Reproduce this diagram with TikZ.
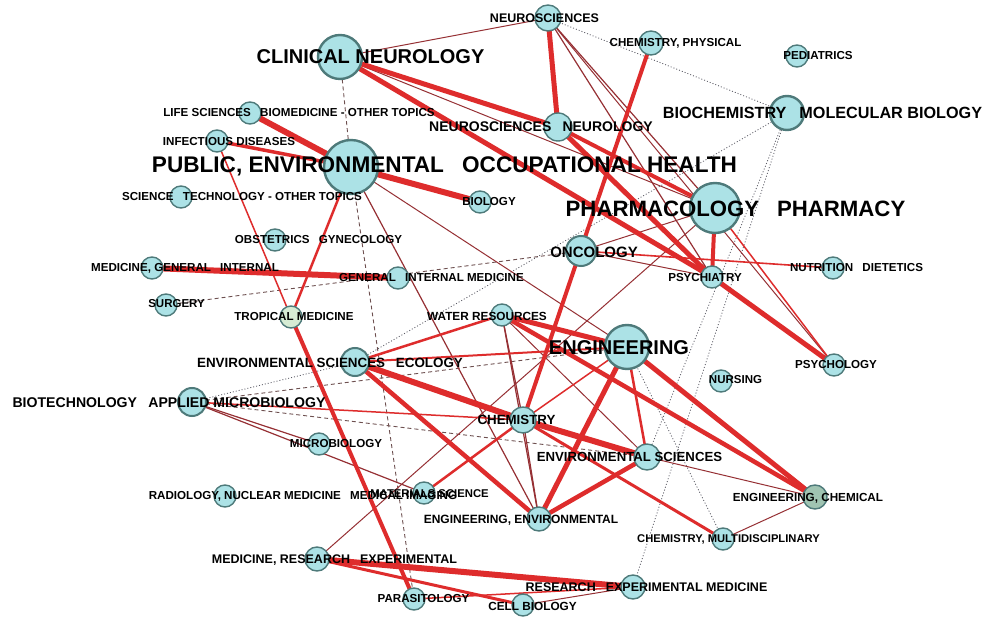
\documentclass[tikz,border=0pt]{standalone}
\usepackage{fontspec}
\setmainfont{Liberation Sans}
\definecolor{ndfill}{RGB}{172,226,230}
\definecolor{ndborder}{RGB}{78,122,122}
\definecolor{tropfill}{RGB}{214,236,212}
\definecolor{echfill}{RGB}{160,196,178}
\definecolor{edgered}{RGB}{222,44,44}
\definecolor{edgedark}{RGB}{150,48,52}
\definecolor{edgegray}{RGB}{110,80,80}
\definecolor{dotgray}{RGB}{90,90,100}
\newcommand{\gp}{\hspace{0.8em}}
\pgfdeclarelayer{bgfill}
\pgfdeclarelayer{edges}
\pgfsetlayers{bgfill,edges,main}
\tikzset{
  nd/.style={circle, draw=ndborder, fill=ndfill, line width=1.4pt, inner sep=0pt},
  bignd/.style={nd, line width=2.4pt},
  lab/.style={inner sep=0pt, text=black, font=\fontsize{#1}{#1}\selectfont\bfseries},
  ered/.style={draw=edgered, line width=#1},
  edark/.style={draw=edgedark, line width=#1},
  edash/.style={draw=edgegray, line width=0.9pt, dash pattern=on 4pt off 3pt},
  edot/.style={draw=dotgray, line width=0.8pt, dash pattern=on 1pt off 2pt}
}
\begin{document}
\begin{tikzpicture}[x=1pt,y=-1pt]
\useasboundingbox (0,0) rectangle (989,617);
\begin{pgfonlayer}{bgfill}
\fill[white] (0,0) rectangle (989,617);
\end{pgfonlayer}

% nodes (circles)
\node[nd, minimum size=26pt] (NEURO) at (548,18) {};
\node[bignd, minimum size=44pt] (CLINNEU) at (340,57) {};
\node[nd, minimum size=24pt] (CHEMPHYS) at (651,43) {};
\node[nd, minimum size=22pt] (PEDI) at (797,56) {};
\node[bignd, minimum size=34pt] (BIOCHEM) at (787,113) {};
\node[nd, minimum size=22pt] (LIFESCI) at (250,113) {};
\node[nd, minimum size=22pt] (INFECT) at (217,141) {};
\node[nd, minimum size=28pt] (NEURONEU) at (558,127) {};
\node[bignd, minimum size=54pt] (PH) at (351,167) {};
\node[nd, minimum size=22pt] (BIOL) at (480,202) {};
\node[nd, minimum size=22pt] (SCITECH) at (181,197) {};
\node[bignd, minimum size=50pt] (PHARM) at (715,208) {};
\node[nd, minimum size=22pt] (OBST) at (275,240) {};
\node[nd, line width=2pt, minimum size=30pt] (ONCO) at (581,251) {};
\node[nd, minimum size=22pt] (MEDGEN) at (152,268) {};
\node[nd, minimum size=22pt] (GIM) at (398,278) {};
\node[nd, minimum size=22pt] (PSYCH) at (712,277) {};
\node[nd, minimum size=22pt] (NUTR) at (833,268) {};
\node[nd, minimum size=22pt] (SURG) at (166,305) {};
\node[nd, fill=tropfill, minimum size=22pt] (TROP) at (291,317) {};
\node[nd, minimum size=22pt] (WATER) at (502,315) {};
\node[bignd, minimum size=44pt] (ENG) at (627,347) {};
\node[nd, line width=2pt, minimum size=28pt] (ESE) at (355,362) {};
\node[nd, minimum size=22pt] (PSYCHO) at (834,365) {};
\node[nd, minimum size=22pt] (NURS) at (721,381) {};
\node[nd, line width=2pt, minimum size=28pt] (BIOTECH) at (192,402) {};
\node[nd, minimum size=26pt] (CHEM) at (523,420) {};
\node[nd, minimum size=22pt] (MICRO) at (319,444) {};
\node[nd, minimum size=26pt] (ENVSCI) at (647,457) {};
\node[nd, minimum size=22pt] (RADIO) at (225,496) {};
\node[nd, minimum size=22pt] (MATSCI) at (424,493) {};
\node[nd, fill=echfill, minimum size=24pt] (ENGCHEM) at (815,497) {};
\node[nd, minimum size=24pt] (ENGENV) at (539,519) {};
\node[nd, minimum size=22pt] (CHEMMULTI) at (723,539) {};
\node[nd, minimum size=24pt] (MEDRES) at (317,559) {};
\node[nd, minimum size=24pt] (REM) at (633,587) {};
\node[nd, minimum size=22pt] (PARA) at (414,599) {};
\node[nd, minimum size=22pt] (CELL) at (523,605) {};

% edges
\begin{pgfonlayer}{edges}
\draw[edot] (NEURO.center) -- (BIOCHEM.center);
\draw[edot] (BIOCHEM.center) -- (ESE.center);
\draw[edot] (BIOCHEM.center) -- (ENVSCI.center);
\draw[edot] (BIOCHEM.center) -- (REM.center);
\draw[edot] (ENG.center) -- (CHEMMULTI.center);
\draw[edot] (BIOTECH.center) -- (ESE.center);
\draw[edash] (PH.center) -- (CLINNEU.center);
\draw[edash] (PH.center) -- (PARA.center);
\draw[edash] (SURG.center) -- (ONCO.center);
\draw[edash] (BIOTECH.center) -- (ENG.center);
\draw[edash] (BIOTECH.center) -- (ENVSCI.center);
\draw[edark=1pt] (CLINNEU.center) -- (PHARM.center);
\draw[edark=1pt] (NEURO.center) -- (CLINNEU.center);
\draw[edark=1.2pt] (NEURO.center) -- (PHARM.center);
\draw[edark=1.2pt] (NEURO.center) -- (PSYCH.center);
\draw[edark=1pt] (NEURO.center) -- (PSYCHO.center);
\draw[edark=1pt] (PH.center) -- (ENG.center);
\draw[edark=1.2pt] (PH.center) -- (ENGENV.center);
\draw[edark=1pt] (ONCO.center) -- (PSYCH.center);
\draw[edark=1pt] (ONCO.center) -- (PHARM.center);
\draw[edark=1pt] (MEDRES.center) -- (PHARM.center);
\draw[edark=1.2pt] (BIOTECH.center) -- (MICRO.center);
\draw[edark=1.2pt] (BIOTECH.center) -- (MATSCI.center);
\draw[edark=1.2pt] (WATER.center) -- (CHEM.center);
\draw[edark=1.2pt] (WATER.center) -- (ENGENV.center);
\draw[edark=1pt] (WATER.center) -- (ENVSCI.center);
\draw[edark=1.2pt] (CHEM.center) -- (ENGENV.center);
\draw[edark=1pt] (ENVSCI.center) -- (ENGCHEM.center);
\draw[edark=1pt] (CHEMMULTI.center) -- (ENGCHEM.center);
\draw[edark=1pt] (CELL.center) -- (REM.center);
\draw[ered=5pt] (CLINNEU.center) -- (NEURONEU.center);
\draw[ered=5pt] (CLINNEU.center) -- (PSYCH.center);
\draw[ered=5pt] (NEURO.center) -- (NEURONEU.center);
\draw[ered=5pt] (NEURONEU.center) -- (PSYCH.center);
\draw[ered=4pt] (NEURONEU.center) -- (PHARM.center);
\draw[ered=4pt] (PHARM.center) -- (PSYCH.center);
\draw[ered=5pt] (PSYCH.center) -- (PSYCHO.center);
\draw[ered=1.5pt] (PHARM.center) -- (PSYCHO.center);
\draw[ered=6pt] (PH.center) -- (LIFESCI.center);
\draw[ered=3.5pt] (PH.center) -- (INFECT.center);
\draw[ered=6pt] (PH.center) -- (BIOL.center);
\draw[ered=2.5pt] (PH.center) -- (TROP.center);
\draw[ered=1.5pt] (INFECT.center) -- (TROP.center);
\draw[ered=4pt] (TROP.center) -- (PARA.center);
\draw[ered=6pt] (MEDGEN.center) -- (GIM.center);
\draw[ered=4pt] (CHEMPHYS.center) -- (CHEM.center);
\draw[ered=1.6pt] (ONCO.center) -- (NUTR.center);
\draw[ered=2.5pt] (ESE.center) -- (WATER.center);
\draw[ered=2pt] (ESE.center) -- (ENG.center);
\draw[ered=6pt] (ESE.center) -- (CHEM.center);
\draw[ered=4.5pt] (ESE.center) -- (ENGENV.center);
\draw[ered=1.5pt] (BIOTECH.center) -- (CHEM.center);
\draw[ered=5pt] (WATER.center) -- (ENG.center);
\draw[ered=4.5pt] (WATER.center) -- (ENGCHEM.center);
\draw[ered=5pt] (ENG.center) -- (ENGENV.center);
\draw[ered=2.5pt] (ENG.center) -- (ENVSCI.center);
\draw[ered=5pt] (ENG.center) -- (ENGCHEM.center);
\draw[ered=1.5pt] (ENG.center) -- (CHEM.center);
\draw[ered=2.5pt] (CHEM.center) -- (MATSCI.center);
\draw[ered=6pt] (CHEM.center) -- (ENVSCI.center);
\draw[ered=3pt] (CHEM.center) -- (CHEMMULTI.center);
\draw[ered=4.5pt] (ENVSCI.center) -- (ENGENV.center);
\draw[ered=6pt] (MEDRES.center) -- (REM.center);
\draw[ered=3pt] (MEDRES.center) -- (CELL.center);
\draw[ered=1.5pt] (PARA.center) -- (REM.center);
\end{pgfonlayer}

% labels
\node[lab=12.5] (tNEURO) at (544.5,18) {NEUROSCIENCES};
\node[lab=20] (tCLINNEU) at (370.5,57) {CLINICAL NEUROLOGY};
\node[lab=11.6] (tCHEMPHYS) at (675.5,43) {CHEMISTRY, PHYSICAL};
\node[lab=11.6] (tPEDI) at (818,56) {PEDIATRICS};
\node[lab=16.2] (tBIOCHEM) at (822.5,113) {BIOCHEMISTRY\gp MOLECULAR BIOLOGY};
\node[lab=11.6] (tLIFESCI) at (299,113) {LIFE SCIENCES\gp BIOMEDICINE - OTHER TOPICS};
\node[lab=11.6] (tINFECT) at (229,142) {INFECTIOUS DISEASES};
\node[lab=14] (tNEURONEU) at (541,127) {NEUROSCIENCES\gp NEUROLOGY};
\node[lab=22.6] (tPH) at (444.5,166) {PUBLIC, ENVIRONMENTAL\gp OCCUPATIONAL HEALTH};
\node[lab=11.6] (tBIOL) at (489,202) {BIOLOGY};
\node[lab=11.6] (tSCITECH) at (242,197) {SCIENCE\gp TECHNOLOGY - OTHER TOPICS};
\node[lab=22.2] (tPHARM) at (735.5,209) {PHARMACOLOGY\gp PHARMACY};
\node[lab=11.6] (tOBST) at (318.5,240) {OBSTETRICS\gp GYNECOLOGY};
\node[lab=15] (tONCO) at (594,252) {ONCOLOGY};
\node[lab=11.6] (tMEDGEN) at (185,268) {MEDICINE, GENERAL\gp INTERNAL};
\node[lab=11.6] (tGIM) at (431.5,278) {GENERAL\gp INTERNAL MEDICINE};
\node[lab=11.6] (tPSYCH) at (705,278) {PSYCHIATRY};
\node[lab=11.6] (tNUTR) at (856.5,268) {NUTRITION\gp DIETETICS};
\node[lab=11.5] (tSURG) at (176.5,304) {SURGERY};
\node[lab=11.6] (tTROP) at (294,317) {TROPICAL MEDICINE};
\node[lab=11.8] (tWATER) at (487,316) {WATER RESOURCES};
\node[lab=20] (tENG) at (619,348) {ENGINEERING};
\node[lab=13.4] (tESE) at (330,363) {ENVIRONMENTAL SCIENCES\gp ECOLOGY};
\node[lab=11.6] (tPSYCHO) at (836,365) {PSYCHOLOGY};
\node[lab=11.5] (tNURS) at (735.5,380) {NURSING};
\node[lab=14.1] (tBIOTECH) at (169,403) {BIOTECHNOLOGY\gp APPLIED MICROBIOLOGY};
\node[lab=13.3] (tCHEM) at (516.5,420) {CHEMISTRY};
\node[lab=11.6] (tMICRO) at (336,444) {MICROBIOLOGY};
\node[lab=13.2] (tENVSCI) at (629.5,457) {ENVIRONMENTAL SCIENCES};
\node[lab=11.6] (tRADIO) at (303,496) {RADIOLOGY, NUCLEAR MEDICINE\gp MEDICAL IMAGING};
\node[lab=11.3] (tMATSCI) at (429.5,494) {MATERIALS SCIENCE};
\node[lab=11.7] (tENGCHEM) at (808,498) {ENGINEERING, CHEMICAL};
\node[lab=12] (tENGENV) at (521,520) {ENGINEERING, ENVIRONMENTAL};
\node[lab=11.2] (tCHEMMULTI) at (728.5,539) {CHEMISTRY, MULTIDISCIPLINARY};
\node[lab=12.5] (tMEDRES) at (334.5,560) {MEDICINE, RESEARCH\gp EXPERIMENTAL};
\node[lab=12.5] (tREM) at (646.5,587) {RESEARCH\gp EXPERIMENTAL MEDICINE};
\node[lab=11.6] (tPARA) at (423.5,599) {PARASITOLOGY};
\node[lab=11.8] (tCELL) at (532.5,606) {CELL BIOLOGY};
\end{tikzpicture}
\end{document}
